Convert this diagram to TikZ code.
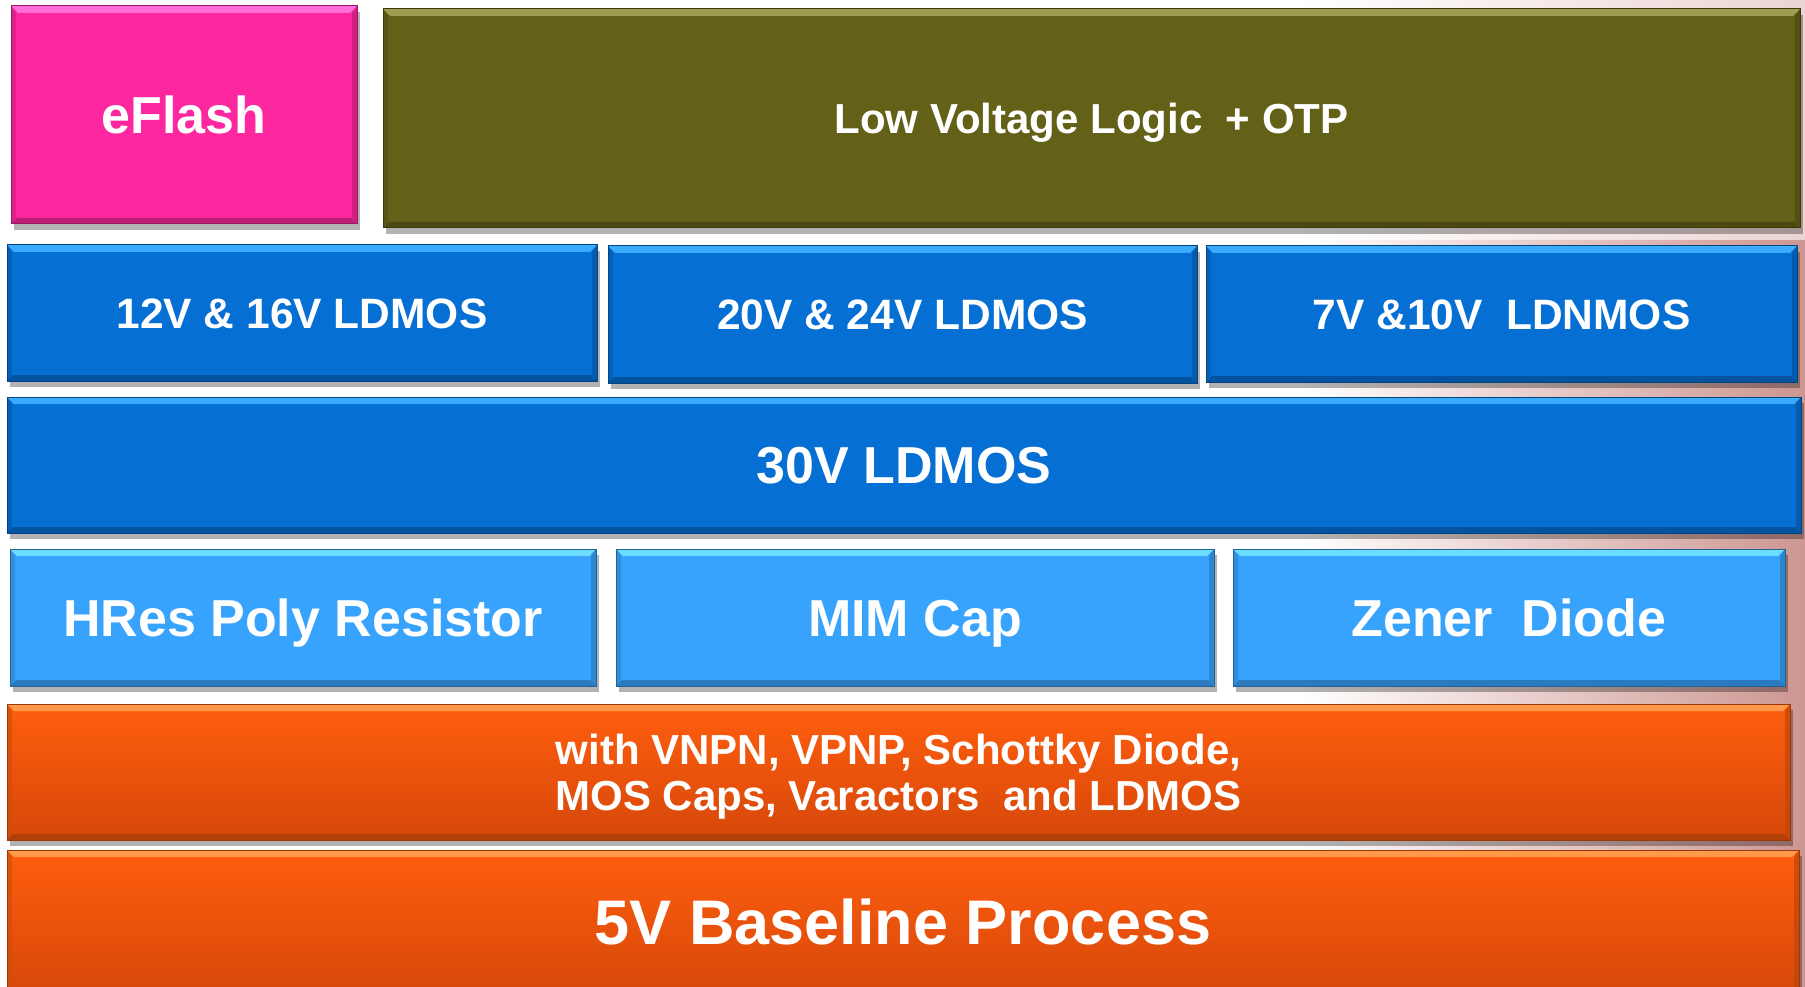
\documentclass[tikz,border=0pt]{standalone}
\usepackage{fontspec}
\setmainfont{Liberation Sans}
\usetikzlibrary{shadows}
\definecolor{pinkc}{RGB}{253,40,160}
\definecolor{pinkl}{RGB}{255,110,220}
\definecolor{olivec}{RGB}{99,97,23}
\definecolor{olivel}{RGB}{160,158,80}
\definecolor{bluec}{RGB}{5,111,212}
\definecolor{bluel}{RGB}{60,172,255}
\definecolor{lbluec}{RGB}{56,163,252}
\definecolor{lbluel}{RGB}{110,222,255}
\definecolor{orangec}{RGB}{255,94,14}
\definecolor{orangel}{RGB}{255,155,75}
\definecolor{orangeb}{RGB}{214,72,10}
\definecolor{rosec}{RGB}{205,150,145}
\newcommand\bevelfx[2]{%
  \shade[top color=#2, bottom color=#1]
    (path picture bounding box.north west) -- (path picture bounding box.north east)
    -- ([shift={(-7pt,-7pt)}]path picture bounding box.north east)
    -- ([shift={(7pt,-7pt)}]path picture bounding box.north west) -- cycle;
  \fill[#1!65!black, opacity=0.7]
    (path picture bounding box.south west) -- (path picture bounding box.south east)
    -- ([shift={(-6pt,6pt)}]path picture bounding box.south east)
    -- ([shift={(6pt,6pt)}]path picture bounding box.south west) -- cycle;
  \fill[#1!82!black, opacity=0.7]
    (path picture bounding box.north west) -- ([shift={(5pt,-7pt)}]path picture bounding box.north west)
    -- ([shift={(5pt,6pt)}]path picture bounding box.south west)
    -- (path picture bounding box.south west) -- cycle;
  \fill[#1!75!black, opacity=0.7]
    (path picture bounding box.north east) -- ([shift={(-5pt,-7pt)}]path picture bounding box.north east)
    -- ([shift={(-5pt,6pt)}]path picture bounding box.south east)
    -- (path picture bounding box.south east) -- cycle;
}
\tikzset{
  blk/.style 2 args={draw=#1!60!black, line width=1pt, fill=#1, text=white, inner sep=0pt,
    align=center, font=\bfseries,
    drop shadow={shadow xshift=3pt, shadow yshift=-6pt, opacity=0.3, fill=black},
    path picture={\bevelfx{#1}{#2}}},
  fs/.style 2 args={font=\fontsize{#1}{#1}\selectfont\bfseries, text height=#2, text depth=0pt},
}
\begin{document}
\begin{tikzpicture}[x=1pt,y=-1pt]
\useasboundingbox (0,0) rectangle (1805,987);
\fill[white] (0,0) rectangle (1805,987);
\shade[left color=white, right color=rosec] (1300,240) rectangle (1805,987);
\shade[left color=white, right color=rosec!40!white] (1300,0) rectangle (1805,240);

\node[blk={pinkc}{pinkl}, fs={52}{37.4pt}, minimum width=346pt, minimum height=218pt] (eflash) at (184,115) {eFlash};
\node[blk={olivec}{olivel}, fs={42}{30.2pt}, minimum width=1417pt, minimum height=219pt] (lvl) at (1091.5,118.5) {Low Voltage Logic \ + OTP};

\node[blk={bluec}{bluel}, fs={42.5}{30.6pt}, minimum width=590pt, minimum height=136pt] (ld12) at (302,313) {12V \& 16V LDMOS};
\node[blk={bluec}{bluel}, fs={42.5}{30.6pt}, minimum width=589pt, minimum height=137pt] (ld20) at (902.5,314.5) {20V \& 24V LDMOS};
\node[blk={bluec}{bluel}, fs={42.5}{30.6pt}, minimum width=591pt, minimum height=136pt] (ld7) at (1501.5,314) {7V \&10V \ LDNMOS};

\node[blk={bluec}{bluel}, fs={52}{37.4pt}, minimum width=1794pt, minimum height=136pt] (ld30) at (904,465) {30V LDMOS};

\node[blk={lbluec}{lbluel}, fs={52}{37.4pt}, minimum width=586pt, minimum height=137pt] (hres) at (303,617.5) {HRes Poly Resistor};
\node[blk={lbluec}{lbluel}, fs={52}{37.4pt}, minimum width=598pt, minimum height=137pt] (mim) at (915,617.5) {MIM Cap};
\node[blk={lbluec}{lbluel}, fs={52}{37.4pt}, minimum width=552pt, minimum height=137pt] (zener) at (1509,617.5) {Zener \ Diode};

\node[blk={orangec}{orangel}, top color=orangec, bottom color=orangeb, minimum width=1783pt, minimum height=136pt,
  font=\fontsize{42}{46}\selectfont\bfseries, text depth=0pt] (dev) at (898.5,772)
  {with VNPN, VPNP, Schottky Diode,\\ MOS Caps, Varactors \ and LDMOS};
\node[blk={orangec}{orangel}, top color=orangec, bottom color=orangeb, fs={63}{45.4pt}, minimum width=1792pt, minimum height=144pt] (base) at (903,922) {5V Baseline Process};
\end{tikzpicture}
\end{document}
